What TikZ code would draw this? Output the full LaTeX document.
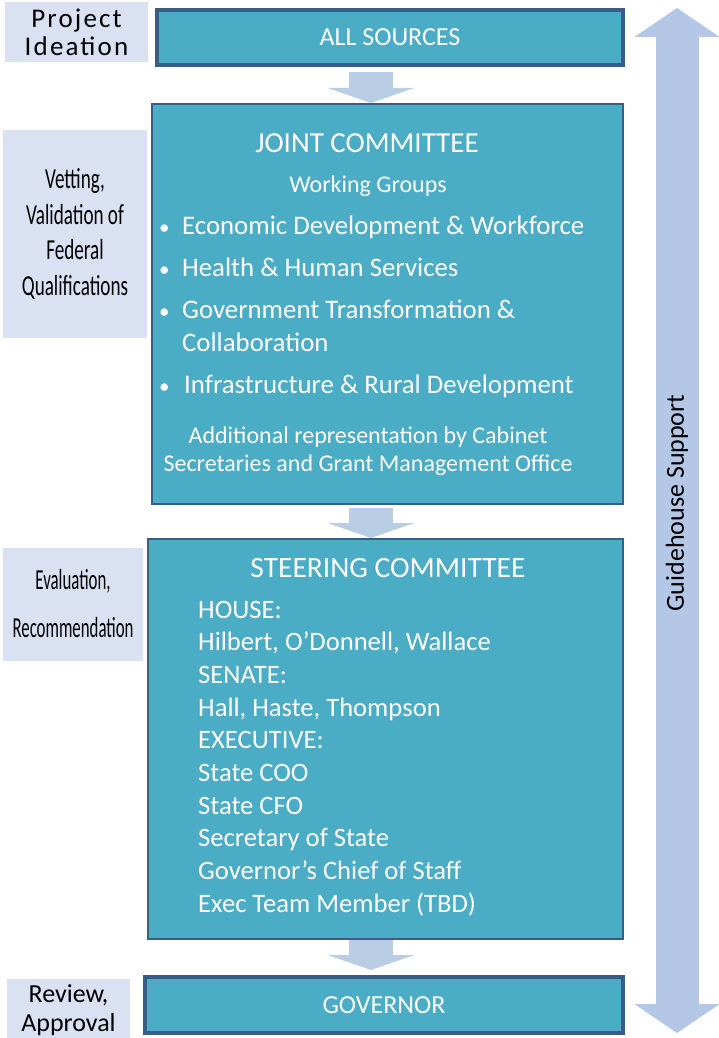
\documentclass[tikz,border=0pt]{standalone}
\usepackage{fontspec}
\setmainfont{Carlito}
\newfontfamily\narrowfont{Carlito}[FakeStretch=0.66]
\newfontfamily\tightfont{Carlito}[FakeStretch=0.58]
\newfontfamily\widefont{Carlito}[LetterSpace=8]
\usetikzlibrary{arrows.meta,positioning}
\definecolor{boxteal}{HTML}{4BACC6}
\definecolor{boxedge}{HTML}{385D8A}
\definecolor{stagefill}{HTML}{D9E1F2}
\definecolor{flowblue}{HTML}{B9CDE5}
\definecolor{guideblue}{HTML}{B4C7E7}
\newcommand{\fs}[2]{\fontsize{#1}{#2}\selectfont}

\begin{document}
\begin{tikzpicture}[x=1pt, y=-1pt,
	stage/.style={fill=stagefill, inner sep=0pt, align=center, text=black},
	block/.style={fill=boxteal, draw=boxedge, line width=2pt, inner sep=0pt},
	heavy/.style={block, line width=4pt, text=white, font=\fs{26}{30}},
	wtext/.style={text=white, inner sep=0pt},
	flow/.style={flowblue, line width=44pt, -{Triangle[width=86pt,length=15pt]}}]
	\useasboundingbox (0,0) rectangle (718,1038);

	% stage labels on the left
	\node[stage, minimum width=143pt, minimum height=60pt, font=\widefont\fs{27}{28}] (ideation) at (76.5,32) {Project\\Ideation};
	\node[stage, minimum width=144pt, minimum height=208pt, font=\narrowfont\fs{29}{35.5}] (vetting) at (75,234) {Vetting,\\Validation of\\Federal\\Qualifications};
	\node[stage, minimum width=140pt, minimum height=113pt, font=\tightfont\fs{29}{48}] (evaluation) at (73,604) {Evaluation,\\Recommendation};
	\node[stage, minimum width=123pt, minimum height=62pt, font=\fs{26}{29}] (review) at (68.5,1010) {Review,\\Approval};

	% main blocks
	\node[heavy, minimum width=466pt, minimum height=55pt] (sources) at (390,37.5) {ALL SOURCES};
	\node[block, minimum width=471pt, minimum height=400pt] (joint) at (387.5,304) {};
	\node[block, minimum width=475pt, minimum height=400pt] (steering) at (385.5,739) {};
	\node[heavy, minimum width=478pt, minimum height=56pt] (governor) at (384,1005) {GOVERNOR};

	% joint committee
	\node[wtext, font=\fs{29}{32}] (jointtitle) at (367,143) {JOINT COMMITTEE};
	\node[wtext, font=\fs{24}{28}] (groupstitle) at (368,186) {Working Groups};
	\node[wtext, anchor=north west, font=\fs{26.8}{33}] (groups) at (159,211) {%
		\begin{tabular}{@{}p{23pt}@{}l@{}}
			{\fs{21}{33}\textbullet} & Economic Development \& Workforce\\[9pt]
			{\fs{21}{33}\textbullet} & Health \& Human Services\\[9pt]
			{\fs{21}{33}\textbullet} & Government Transformation \&\\
			 & Collaboration\\[9pt]
			{\fs{21}{33}\textbullet} & \hspace{2pt}Infrastructure \& Rural Development
		\end{tabular}};
	\node[wtext, align=center, font=\fs{24}{28}] (extra) at (368,451) {Additional representation by Cabinet\\Secretaries and Grant Management Office};

	% steering committee
	\node[wtext, font=\fs{29.5}{32}] (steertitle) at (388,568) {STEERING COMMITTEE};
	\foreach \t [count=\i] in {HOUSE:, {Hilbert, O’Donnell, Wallace}, SENATE:, {Hall, Haste, Thompson}, EXECUTIVE:, State COO, State CFO, Secretary of State, Governor’s Chief of Staff, Exec Team Member (TBD)}
		\node[wtext, anchor=base west, font=\fs{26.6}{30}] (member\i) at (198,{618+32.7*(\i-1)}) {\t};

	% flow arrows
	\coordinate (lane) at (371,0);
	\draw[flow, shorten <=5pt] (sources.south -| lane) -- (joint.north -| lane);
	\draw[flow, shorten <=3pt] (joint.south -| lane) -- (steering.north -| lane);
	\draw[flow, shorten >=5pt] (steering.south -| lane) -- (governor.north -| lane);

	% support arrow
	\coordinate (guidetop) at (677,8);
	\coordinate (guidebot) at (677,1033);
	\draw[guideblue, line width=43pt, {Triangle[width=84pt,length=29pt]}-{Triangle[width=84pt,length=29pt]}] (guidetop) -- (guidebot);
	\node[rotate=90, font=\fs{26}{30}] (guide) at (677,503) {Guidehouse Support};
\end{tikzpicture}
\end{document}
